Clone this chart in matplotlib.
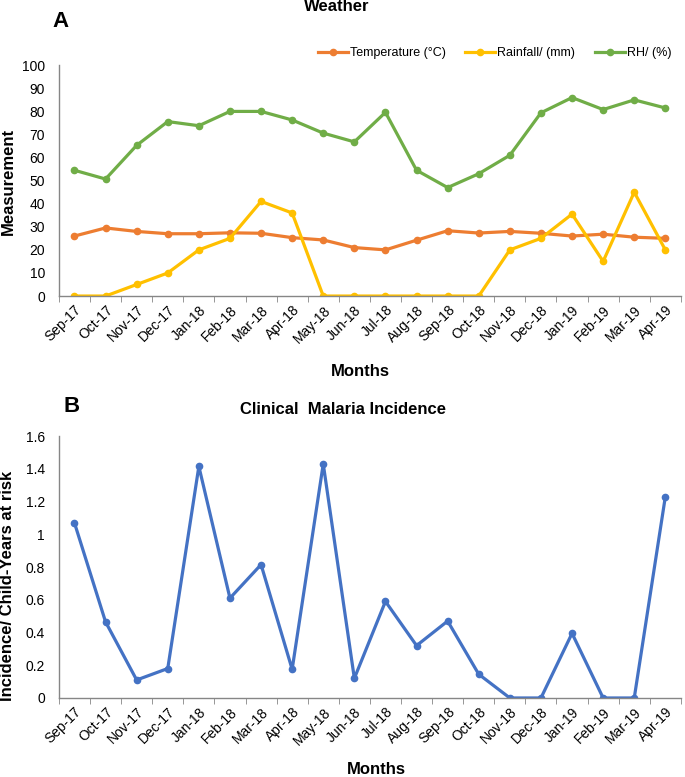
"""
Weather and clinical malaria incidence, Sep-17 to Apr-19 (two stacked panels).
Output: out.png
"""

import matplotlib
matplotlib.use("Agg")
import matplotlib.pyplot as plt

# ── data ──────────────────────────────────────────────────────────────────────

months = [
    "Sep-17", "Oct-17", "Nov-17", "Dec-17", "Jan-18", "Feb-18", "Mar-18",
    "Apr-18", "May-18", "Jun-18", "Jul-18", "Aug-18", "Sep-18", "Oct-18",
    "Nov-18", "Dec-18", "Jan-19", "Feb-19", "Mar-19", "Apr-19",
]
temperature = [26, 29.5, 28, 27, 27, 27.4, 27.2, 25.3, 24.3, 21, 20, 24.2,
               28.3, 27.3, 28, 27.2, 26, 26.8, 25.5, 25]
rainfall = [0, 0, 5, 10, 20, 25, 41, 36, 0, 0, 0, 0, 0, 0, 20, 25, 35.5, 15, 45, 20]
humidity = [54.5, 50.7, 65.3, 75.6, 73.8, 80, 80, 76.3, 70.6, 66.8, 79.6, 54.5,
            47, 53, 61, 79.4, 86, 80.8, 85, 81.5]
incidence = [1.07, 0.465, 0.11, 0.18, 1.415, 0.61, 0.815, 0.175, 1.43, 0.12,
             0.59, 0.32, 0.47, 0.145, 0, 0, 0.395, 0, 0, 1.23]

ORANGE = "#ED7D31"
YELLOW = "#FFC000"
GREEN  = "#70AD47"
BLUE   = "#4472C4"
AXIS_C = "#868686"

plt.rcParams["font.family"] = ["Liberation Sans", "DejaVu Sans"]

fig = plt.figure(figsize=(6.85, 7.77), dpi=100)
ax_a = fig.add_axes([0.086, 0.619, 0.908, 0.297])
ax_b = fig.add_axes([0.086, 0.1017, 0.908, 0.337])

x = list(range(len(months)))


def style_axis(ax):
    ax.set_xlim(-0.5, len(months) - 0.5)
    ax.set_xticks(x)
    ax.set_xticklabels(months, rotation=45, ha="right", rotation_mode="anchor",
                       fontsize=10)
    ax.set_xticks([i - 0.5 for i in range(len(months) + 1)], minor=True)
    ax.tick_params(axis="x", which="major", length=0, pad=5)
    ax.tick_params(axis="x", which="minor", length=4, color=AXIS_C, direction="out")
    ax.tick_params(axis="y", length=0, labelsize=10, pad=10)
    for side in ("top", "right"):
        ax.spines[side].set_visible(False)
    for side in ("left", "bottom"):
        ax.spines[side].set_color(AXIS_C)
        ax.spines[side].set_linewidth(1.0)


# ── panel A ───────────────────────────────────────────────────────────────────

line_kw = dict(linewidth=2.3, marker="o", markersize=4.5)
ax_a.plot(x, temperature, color=ORANGE, label="Temperature (°C)", **line_kw)
ax_a.plot(x, rainfall, color=YELLOW, label="Rainfall/ (mm)", **line_kw)
ax_a.plot(x, humidity, color=GREEN, label="RH/ (%)", **line_kw)
ax_a.set_ylim(0, 100)
ax_a.set_yticks(range(0, 101, 10))
style_axis(ax_a)
ax_a.legend(loc="center right", bbox_to_anchor=(0.985, 1.052), ncol=3, frameon=False,
            fontsize=9, handlelength=2.4, columnspacing=1.6, handletextpad=0.15,
            borderaxespad=0, borderpad=0)
fig.text(0.492, 0.991, "Weather", ha="center", va="center", fontsize=12,
         fontweight="bold")
fig.text(0.0876, 0.972, "A", ha="center", va="center", fontsize=16, fontweight="bold")
fig.text(8 / 685, 1 - 181 / 777, "Measurement", rotation=90, ha="center",
         va="center", fontsize=12, fontweight="bold")
fig.text(360 / 685, 1 - 371 / 777, "Months", ha="center", va="center",
         fontsize=12, fontweight="bold")

# ── panel B ───────────────────────────────────────────────────────────────────

ax_b.plot(x, incidence, color=BLUE, **line_kw)
ax_b.set_ylim(0, 1.6)
ax_b.set_yticks([0, 0.2, 0.4, 0.6, 0.8, 1, 1.2, 1.4, 1.6])
ax_b.set_yticklabels(["0", "0.2", "0.4", "0.6", "0.8", "1", "1.2", "1.4", "1.6"])
style_axis(ax_b)
fig.text(343 / 685, 1 - 409 / 777, "Clinical  Malaria Incidence", ha="center",
         va="center", fontsize=12, fontweight="bold")
fig.text(72 / 685, 1 - 407 / 777, "B", ha="center", va="center", fontsize=16,
         fontweight="bold")
fig.text(8 / 685, 1 - 586 / 777, "Incidence/ Child-Years at risk", rotation=90,
         ha="center", va="center", fontsize=12, fontweight="bold")
fig.text(376 / 685, 1 - 769 / 777, "Months", ha="center", va="center",
         fontsize=12, fontweight="bold")

fig.savefig("out.png", dpi=100)
plt.close(fig)
